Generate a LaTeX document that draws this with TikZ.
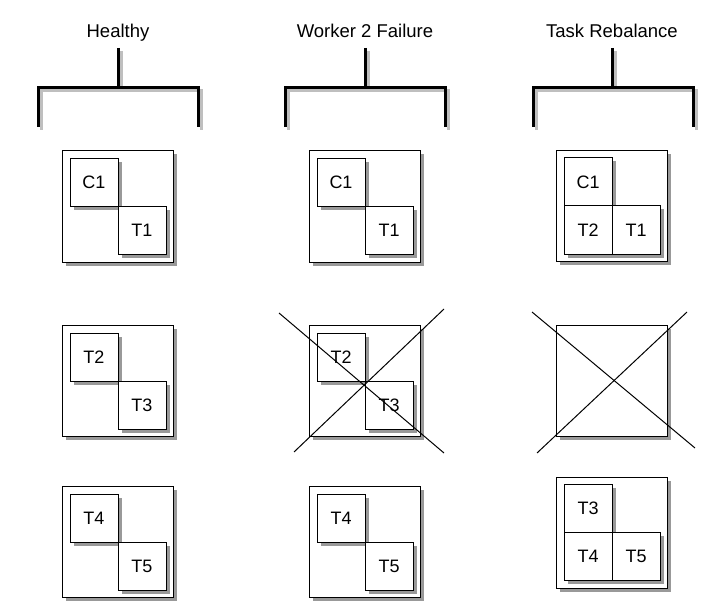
\documentclass[tikz,border=0pt]{standalone}
\usepackage{fontspec}
\setmainfont{Liberation Sans}
\usetikzlibrary{shadows}

\tikzset{
  title/.style={anchor=south, font=\fontsize{18.5}{21}\selectfont, text height=13pt, text depth=4pt, inner sep=6.5pt},
  bracket/.style={line width=3pt, preaction={draw=black!25, line width=3pt, transform canvas={xshift=3pt, yshift=-3pt}}},
  frame/.style={draw, line width=1pt, fill=white, minimum width=111pt, minimum height=111pt, inner sep=0pt,
    drop shadow={shadow xshift=3.5pt, shadow yshift=-3.5pt, fill=black!40, opacity=1}},
  cell/.style={draw, line width=1pt, fill=white, minimum size=48pt, inner sep=0pt, font=\fontsize{18}{21}\selectfont,
    drop shadow={shadow xshift=3.5pt, shadow yshift=-3.5pt, fill=black!40, opacity=1}},
  cross/.style={line width=1pt}
}

\begin{document}
\begin{tikzpicture}[x=1pt, y=-1pt]

  \useasboundingbox (0,0) rectangle (722,612);

  \node[title] (healthy) at (118,48) {Healthy};
  \node[title] (failure) at (365,48) {Worker 2 Failure};
  \node[title] (rebalance) at (612,48) {Task Rebalance};

  \coordinate (hbar) at (118,88);
  \coordinate (hl) at (38,127);
  \coordinate (hr) at (198,127);
  \draw[bracket] (healthy.south) -- (hbar);
  \draw[bracket] (hl) |- (hbar) -| (hr);

  \coordinate (fbar) at (365,88);
  \coordinate (fl) at (285,127);
  \coordinate (fr) at (445,127);
  \draw[bracket] (failure.south) -- (fbar);
  \draw[bracket] (fl) |- (fbar) -| (fr);

  \coordinate (rbar) at (612,88);
  \coordinate (rl) at (533,127);
  \coordinate (rr) at (693,127);
  \draw[bracket] (rebalance.south) -- (rbar);
  \draw[bracket] (rl) |- (rbar) -| (rr);

  \node[frame] (h1) at (118,206.5) {};
  \node[cell] (hc1) at (94,182.5) {C1};
  \node[cell] (ht1) at (142,230.5) {T1};

  \node[frame] (h2) at (118,381) {};
  \node[cell] (ht2) at (94,357) {T2};
  \node[cell] (ht3) at (142,405) {T3};

  \node[frame] (h3) at (118,542) {};
  \node[cell] (ht4) at (94,518) {T4};
  \node[cell] (ht5) at (142,566) {T5};

  \node[frame] (f1) at (365,206.5) {};
  \node[cell] (fc1) at (341,182.5) {C1};
  \node[cell] (ft1) at (389,230.5) {T1};

  \node[frame] (f2) at (365,381) {};
  \node[cell] (ft2) at (341,357) {T2};
  \node[cell] (ft3) at (389,405) {T3};

  \node[frame] (f3) at (365,542) {};
  \node[cell] (ft4) at (341,518) {T4};
  \node[cell] (ft5) at (389,566) {T5};

  \draw[cross] (279,313) -- (444,453);
  \draw[cross] (444,309) -- (294,452);

  \node[frame] (r1) at (612,206) {};
  \node[cell] (rc1) at (588,182) {C1};
  \node[cell] (rt2) at (588,230) {T2};
  \node[cell] (rt1) at (636,230) {T1};

  \node[frame] (r2) at (612,381) {};
  \draw[cross] (532,312) -- (695,448);
  \draw[cross] (687,312) -- (537,453);

  \node[frame] (r3) at (612,532.5) {};
  \node[cell] (rt3) at (588,508.5) {T3};
  \node[cell] (rt4) at (588,556.5) {T4};
  \node[cell] (rt5) at (636,556.5) {T5};

\end{tikzpicture}
\end{document}
